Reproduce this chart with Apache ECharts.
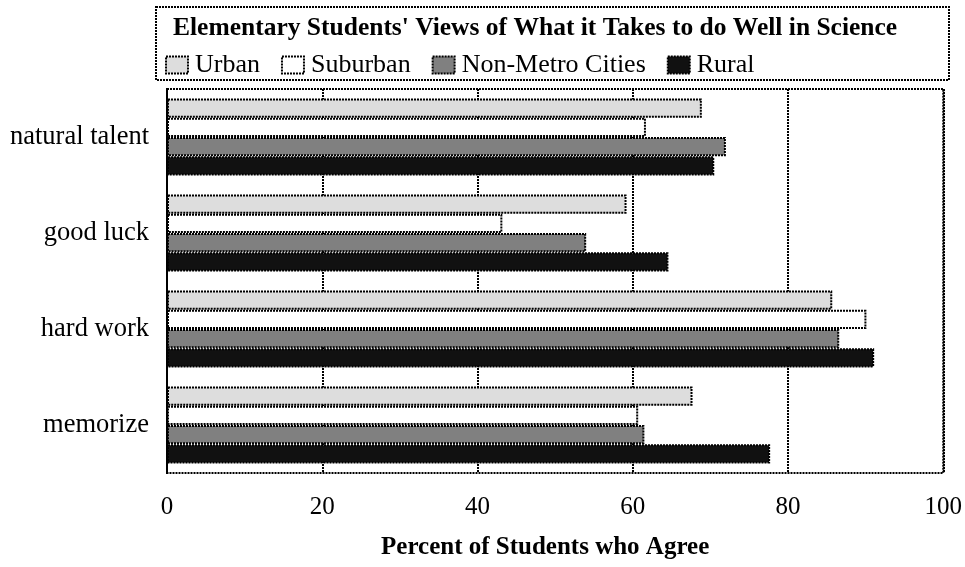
<!DOCTYPE html>
<html>
<head>
<meta charset="utf-8">
<title>Elementary Students' Views</title>
<script src="https://cdn.jsdelivr.net/npm/echarts@6/dist/echarts.min.js"></script>
<style>
  html, body { margin: 0; padding: 0; background: #fff; }
  #chart { width: 965px; height: 567px; }
</style>
</head>
<body>
<div id="chart"></div>
<script>
// categories, top to bottom
var categories = ['natural talent', 'good luck', 'hard work', 'memorize'];
var seriesNames = ['Urban', 'Suburban', 'Non-Metro Cities', 'Rural'];
// percent who agree, one value per category
var urban = [68.9, 59.2, 85.7, 67.7];
var suburban = [61.7, 43.2, 90.1, 60.7];
var nonMetro = [72.0, 54.0, 86.6, 61.5];
var rural = [70.5, 64.6, 91.1, 77.7];
var xTicks = [0, 20, 40, 60, 80, 100];

var colors = ['#dddddd', '#ffffff', '#808080', '#111111'];
var font = "'Liberation Serif', 'Times New Roman', serif";

var chart = echarts.init(document.getElementById('chart'));

function bar(name, data, color) {
  return {
    name: name,
    type: 'bar',
    data: data,
    barGap: '0%',
    barCategoryGap: '20%',
    itemStyle: {
      color: color,
      borderColor: '#000',
      borderWidth: 2,
      borderType: [2, 1]
    },
    emphasis: { disabled: true }
  };
}

chart.setOption({
  animation: false,
  textStyle: { fontFamily: font, color: '#000' },
  title: {
    text: "Elementary Students' Views of What it Takes to do Well in Science",
    left: 173,
    top: 15,
    padding: 0,
    textStyle: { fontFamily: font, fontSize: 25.5, fontWeight: 'bold', color: '#000' }
  },
  legend: {
    data: seriesNames,
    left: 165,
    top: 52,
    padding: 0,
    itemWidth: 22,
    itemHeight: 17,
    itemGap: 21,
    icon: 'rect',
    itemStyle: { borderColor: '#000', borderWidth: 2, borderType: [2, 1] },
    textStyle: { fontFamily: font, fontSize: 26, color: '#000', padding: [0, 0, 0, 2] }
  },
  graphic: [{
    type: 'rect',
    shape: { x: 156, y: 7, width: 793, height: 73 },
    style: { fill: 'none', stroke: '#000', lineWidth: 2, lineDash: [2, 1] },
    silent: true
  }],
  grid: {
    left: 167,
    right: 20,
    top: 89,
    bottom: 94,
    show: true,
    borderColor: '#000',
    borderWidth: 2,
    borderType: [2, 1]
  },
  xAxis: {
    type: 'value',
    min: xTicks[0],
    max: xTicks[xTicks.length - 1],
    interval: 20,
    name: 'Percent of Students who Agree',
    nameLocation: 'middle',
    nameGap: 62,
    nameTextStyle: { fontFamily: font, fontSize: 25, fontWeight: 'bold', color: '#000', padding: [0, 20, 0, 0] },
    axisLine: { show: false },
    axisTick: { show: false },
    axisLabel: { fontFamily: font, fontSize: 25, color: '#000', margin: 22 },
    splitLine: { show: true, lineStyle: { color: '#000', width: 2, type: [2, 1] } }
  },
  yAxis: {
    type: 'category',
    data: categories,
    inverse: true,
    axisLine: { show: true, lineStyle: { color: '#000', width: 2 } },
    axisTick: { show: false },
    axisLabel: { fontFamily: font, fontSize: 26.5, color: '#000', margin: 18, padding: [6, 0, 0, 0] },
    splitLine: { show: false }
  },
  series: [
    bar(seriesNames[0], urban, colors[0]),
    bar(seriesNames[1], suburban, colors[1]),
    bar(seriesNames[2], nonMetro, colors[2]),
    bar(seriesNames[3], rural, colors[3])
  ]
});
</script>
</body>
</html>
